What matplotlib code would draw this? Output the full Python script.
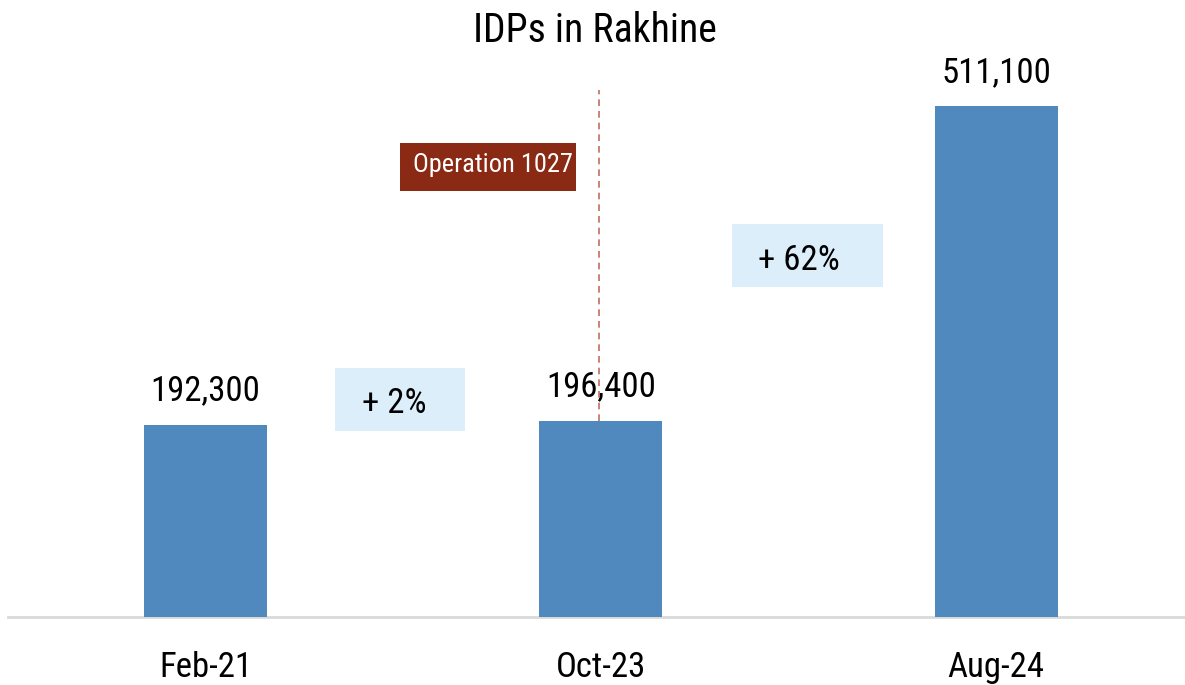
import matplotlib
matplotlib.use("Agg")
import matplotlib.pyplot as plt
from matplotlib.patches import Rectangle

categories = ["Feb-21", "Oct-23", "Aug-24"]
values = [192300, 196400, 511100]
value_labels = ["192,300", "196,400", "511,100"]
growth_labels = ["+ 2%", "+ 62%"]
event_label = "Operation 1027"
title = "IDPs in Rakhine"

plt.rcParams["font.family"] = ["Roboto Condensed", "Liberation Sans", "DejaVu Sans"]

W, H = 1185, 685
fig = plt.figure(figsize=(W / 100, H / 100), dpi=100)
ax = fig.add_axes([8 / W, 68 / H, (W - 8) / W, 577 / H])
ax.set_xlim(-0.5, 2.478)
ax.set_ylim(0, 577000)

bar_color = "#4F89BD"
x = list(range(len(categories)))
ax.bar(x, values, width=0.311, color=bar_color, zorder=3)

for xi, v, lab in zip(x, values, value_labels):
    ax.annotate(lab, (xi, v), xytext=(0, 17.3), textcoords="offset points",
                ha="center", va="baseline", fontsize=25, color="#000000")

# axis styling
for s in ["top", "right", "left"]:
    ax.spines[s].set_visible(False)
ax.spines["bottom"].set_color("#D9D9D9")
ax.spines["bottom"].set_linewidth(2)
ax.set_yticks([])
ax.set_xticks(x, categories)
ax.tick_params(axis="x", length=0, pad=43.2, labelsize=25)
for t in ax.get_xticklabels():
    t.set_va("baseline")

# dashed event line
ax.vlines(0.9955, values[1], 527000, colors="#C0705F", linestyles=(0, (4, 3)),
          linewidth=1.2, zorder=4)

# event box
ax.add_patch(Rectangle((0.492, 426000), 0.937 - 0.492, 48000,
                       facecolor="#8B2A14", edgecolor="none", zorder=5))
ax.text(0.7274, 445000, event_label, ha="center", va="baseline",
        fontsize=19, color="white", zorder=6)

# growth boxes
boxes = [((0.327, 186000), 0.6559 - 0.327, 63000, (0.396, 204000)),
         ((1.332, 330000), 1.714 - 1.332, 63000, (1.398, 347000))]
for (xy, w, h, txy), lab in zip(boxes, growth_labels):
    ax.add_patch(Rectangle(xy, w, h, facecolor="#DDEEFB", edgecolor="none", zorder=2))
    ax.text(txy[0], txy[1], lab, ha="left", va="baseline", fontsize=25,
            color="#000000", zorder=6)

fig.text(595 / W, 1 - 42 / H, title, ha="center", va="baseline", fontsize=28.6)

fig.savefig("out.png", dpi=100)
